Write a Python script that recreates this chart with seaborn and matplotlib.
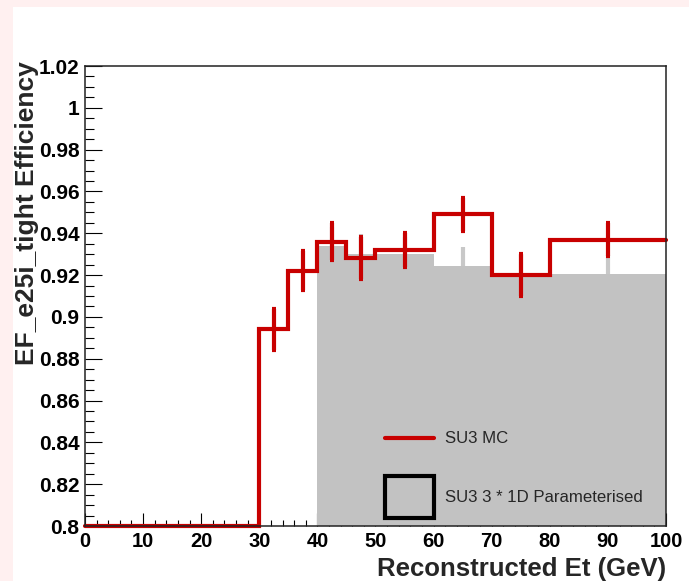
import numpy as np
import pandas as pd
import matplotlib
matplotlib.use("Agg")
import matplotlib.pyplot as plt
from matplotlib.ticker import MultipleLocator, FuncFormatter
from matplotlib.lines import Line2D
from matplotlib.patches import Patch, Rectangle
from matplotlib.legend_handler import HandlerLine2D
import seaborn as sns

# SU3 MC efficiency (bin edges in GeV, one value / error per bin)
mc_edges = [0, 10, 20, 30, 35, 40, 45, 50, 60, 70, 80, 100]
mc_eff = [0.0, 0.0, 0.0, 0.894, 0.922, 0.936, 0.928, 0.932, 0.949, 0.920, 0.937]
mc_err = [0.0, 0.0, 0.0, 0.010, 0.0093, 0.009, 0.010, 0.008, 0.0078, 0.010, 0.0078]

# SU3 3 * 1D parameterised efficiency
par_edges = [40, 45, 50, 60, 70, 80, 100]
par_eff = [0.934, 0.930, 0.930, 0.9243, 0.9205, 0.9205]
par_err = [0.009, 0.0097, 0.008, 0.009, 0.009, 0.009]

x_label = "Reconstructed Et (GeV)"
y_label = "EF_e25i_tight Efficiency"
legend_labels = ["SU3 MC", "SU3 3 * 1D Parameterised"]

x_range = (0, 100)
y_range = (0.8, 1.02)

RED = "#c80000"
GREY = "#c2c2c2"
GREY_ERR = "#c8c8c8"

sns.set_style("ticks")
plt.rcParams["font.family"] = ["Liberation Sans", "DejaVu Sans"]

fig = plt.figure(figsize=(6.89, 5.81), dpi=100, facecolor="#fff0f0")
fig.patches.append(Rectangle((13 / 689, 0), 1 - 13 / 689, 1 - 7 / 581,
                             transform=fig.transFigure, facecolor="white",
                             edgecolor="none", zorder=-10))
ax = fig.add_axes([85 / 689, 55 / 581, 581 / 689, 460 / 581])
ax.set_facecolor("white")


def centers(edges):
    e = np.asarray(edges, dtype=float)
    return (e[:-1] + e[1:]) / 2


par_df = pd.DataFrame({"et": centers(par_edges), "eff": par_eff, "err": par_err})
mc_df = pd.DataFrame({"et": centers(mc_edges), "eff": mc_eff, "err": mc_err})

# parameterised efficiency: light error bars behind a filled histogram
ax.errorbar(par_df["et"], par_df["eff"], yerr=par_df["err"], fmt="none",
            ecolor=GREY_ERR, elinewidth=3, capsize=0, zorder=1)
sns.histplot(data=par_df, x="et", weights="eff", bins=par_edges,
             element="step", fill=True, color=GREY, alpha=1.0,
             linewidth=0, ax=ax, zorder=2)

# MC efficiency: empty bins are drawn on the lower frame edge
mc_plot = mc_df.assign(eff=np.maximum(mc_df["eff"], y_range[0]))
n_before = len(ax.lines)
sns.histplot(data=mc_plot, x="et", weights="eff", bins=mc_edges,
             element="step", fill=False, color=RED, linewidth=3,
             ax=ax, zorder=4)
for ln in ax.lines[n_before:]:
    ln.set_clip_on(False)
    ln.set_solid_joinstyle("miter")
sel = mc_df["err"] > 0
ax.errorbar(mc_df.loc[sel, "et"], mc_df.loc[sel, "eff"], yerr=mc_df.loc[sel, "err"],
            fmt="none", ecolor=RED, elinewidth=3, capsize=1.2, capthick=3, zorder=5)

ax.set_xlim(*x_range)
ax.set_ylim(*y_range)

ax.xaxis.set_major_locator(MultipleLocator(10))
ax.xaxis.set_minor_locator(MultipleLocator(2))
ax.yaxis.set_major_locator(MultipleLocator(0.02))
ax.yaxis.set_minor_locator(MultipleLocator(0.005))
ax.yaxis.set_major_formatter(FuncFormatter(lambda v, p: f"{round(v, 4):g}"))
ax.xaxis.set_major_formatter(FuncFormatter(lambda v, p: f"{v:g}"))

ax.tick_params(axis="both", which="both", direction="in", colors="black",
               width=0.8, top=False, right=False)
ax.tick_params(axis="x", which="major", length=9.5, pad=4.5)
ax.tick_params(axis="x", which="minor", length=4.5)
ax.tick_params(axis="y", which="major", length=12.5, pad=4)
ax.tick_params(axis="y", which="minor", length=6.5)
for lbl in ax.get_xticklabels():
    lbl.set_fontsize(14.5)
    lbl.set_fontweight("bold")
for lbl in ax.get_yticklabels():
    lbl.set_fontsize(15)
    lbl.set_fontweight("bold")

for sp in ax.spines.values():
    sp.set_visible(True)
    sp.set_linewidth(1.1)
    sp.set_color("#222222")
    sp.set_zorder(6)

ax.set_xlabel(x_label, fontsize=18.5, fontweight="bold", ha="right")
ax.xaxis.set_label_coords(1.0, -0.068)
ax.set_ylabel(y_label, fontsize=19, fontweight="bold", ha="right")
ax.yaxis.set_label_coords(-0.079, 1.01)


class CenteredLineHandler(HandlerLine2D):
    """Line legend entry drawn through the vertical middle of its text."""

    def create_artists(self, legend, orig_handle, xdescent, ydescent,
                       width, height, fontsize, trans):
        artists = super().create_artists(legend, orig_handle, xdescent, ydescent,
                                         width, height, fontsize, trans)
        for a in artists:
            y = np.asarray(a.get_ydata(), dtype=float)
            a.set_ydata(y - 5.5)
        return artists


line_handle = Line2D([], [], color=RED, linewidth=3)
box_handle = Patch(facecolor="none", edgecolor="black", linewidth=3)
ax.legend([line_handle, box_handle], legend_labels, loc="upper left",
          bbox_to_anchor=(0.517, 0.236), frameon=False, fontsize=12.1,
          handlelength=2.92, handleheight=3.38, labelspacing=1.07,
          handletextpad=0.65, borderpad=0, borderaxespad=0,
          handler_map={line_handle: CenteredLineHandler()})

fig.savefig("out.png", dpi=100, facecolor=fig.get_facecolor())
